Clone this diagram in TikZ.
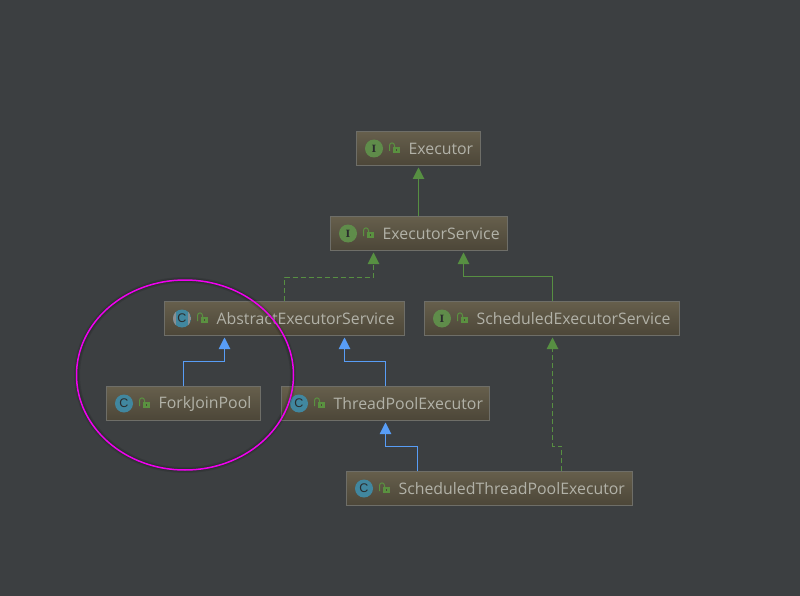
\documentclass[tikz,border=0pt]{standalone}
\usepackage{fontspec}
\setmainfont{Open Sans}
\newfontfamily\slabfont{DejaVu Serif}
\newfontfamily\iconfont{Liberation Sans}
\usetikzlibrary{arrows.meta,calc}
\definecolor{bg}{HTML}{3C3F41}
\definecolor{boxtop}{HTML}{665F4C}
\definecolor{boxbot}{HTML}{4C4638}
\definecolor{boxline}{HTML}{6E6E68}
\definecolor{txt}{HTML}{B2B2A8}
\definecolor{igreen}{HTML}{5F8C4A}
\definecolor{cteal}{HTML}{41879F}
\definecolor{lockc}{HTML}{5A9140}
\definecolor{implc}{HTML}{578F42}
\definecolor{extc}{HTML}{589DF6}
\definecolor{magen}{HTML}{F000F0}
\definecolor{absgray}{HTML}{8C8F91}
\tikzset{
  x=1pt,y=-1pt,
  umlbox/.style={draw=boxline,line width=1pt,top color=boxtop,bottom color=boxbot,rectangle,inner sep=0pt,minimum height=34pt,anchor=north west},
  icon/.style={circle,inner sep=0pt,minimum size=18pt,text=bg!70!black},
  label/.style={anchor=west,inner sep=0pt,text=txt,font=\fontsize{15.85}{18}\selectfont},
  impl/.style={draw=implc,line width=1pt,dash pattern=on 5pt off 3pt,-{Triangle[length=11.5pt,width=11.5pt,fill=implc]},shorten >=1.5pt},
  real/.style={draw=implc,line width=1pt,-{Triangle[length=11.5pt,width=11.5pt,fill=implc]},shorten >=1.5pt},
  ext/.style={draw=extc,line width=1pt,-{Triangle[length=11.5pt,width=11.5pt,fill=extc]},shorten >=1.5pt},
}
\newcommand{\umlnode}[7]{%
  \node[umlbox,minimum width=#4pt] (#1) at (#2,#3) {};
  \node[icon,fill=#6] (#1icon) at (#2+18,#3+17.5) {#5};
  \fill[lockc] (#2+37,#3+16) rectangle (#2+43.5,#3+22);
  \fill[boxbot] (#2+39.5,#3+18.3) rectangle (#2+41,#3+19.7);
  \draw[lockc,line width=1pt] (#2+33.5,#3+20) -- (#2+33.5,#3+14.5) .. controls (#2+33.5,#3+11) and (#2+38.5,#3+11) .. (#2+38.5,#3+14.5) -- (#2+38.5,#3+16);
  \node[label] (#1text) at (#2+52.4,#3+17.7) {#7};
}
\newcommand{\ilet}{{\slabfont\bfseries\fontsize{10}{10}\selectfont I}}
\newcommand{\clet}{{\iconfont\fontsize{12.5}{12.5}\selectfont C}}
\begin{document}
\begin{tikzpicture}
\useasboundingbox (0,0) rectangle (800,596);
\fill[bg] (0,0) rectangle (800,596);

\umlnode{ex}{356}{131}{124}{\ilet}{igreen}{Executor}
\umlnode{es}{330}{216}{177}{\ilet}{igreen}{ExecutorService}
\umlnode{aes}{164}{301}{240}{}{cteal}{AbstractExecutorService}
\umlnode{ses}{424}{301}{255}{\ilet}{igreen}{ScheduledExecutorService}
\umlnode{fjp}{106}{386}{154}{\clet}{cteal}{ForkJoinPool}
\umlnode{tpe}{281}{386}{208}{\clet}{cteal}{ThreadPoolExecutor}
\umlnode{stpe}{346}{471}{286}{\clet}{cteal}{ScheduledThreadPoolExecutor}

% abstract marker: grey sides on the AbstractExecutorService icon
\begin{scope}
\clip (aesicon.center) circle[radius=9];
\fill[absgray] ($(aesicon.center)+(-9,-9)$) rectangle ($(aesicon.center)+(-5.7,9)$);
\fill[absgray] ($(aesicon.center)+(5.7,-9)$) rectangle ($(aesicon.center)+(9,9)$);
\end{scope}
\node[icon,minimum size=0pt] (aesletter) at (aesicon.center) {\clet};

% connectors
\draw[real] (es.north -| ex.south) -- (ex.south);
\draw[impl] (aes.north) -- ++(0,-24) -| ($(es.south)+(-45.5,0)$);
\draw[real] ($(ses.north)+(.5,0)$) -- ++(0,-25) -| ($(es.south)+(44.5,0)$);
\draw[ext] (fjp.north) -- ++(0,-25) -| ($(aes.south)+(-60,0)$);
\draw[ext] (tpe.north) -- ++(0,-25) -| ($(aes.south)+(60,0)$);
\draw[ext] ($(stpe.north)+(-72,0)$) -- ++(0,-25) -| (tpe.south);
\draw[impl] ($(stpe.north)+(72,0)$) -- ++(0,-25) -- ++(-9,0) -- ($(ses.south)+(.5,0)$);

% ellipse with soft shadow
\draw[black,opacity=.10,line width=6pt] (185,375) ellipse[x radius=108,y radius=95];
\draw[black,opacity=.12,line width=3.5pt] (185,375) ellipse[x radius=108,y radius=95];
\draw[magen,line width=1.5pt] (185,375) ellipse[x radius=108.5,y radius=95];
\end{tikzpicture}
\end{document}
